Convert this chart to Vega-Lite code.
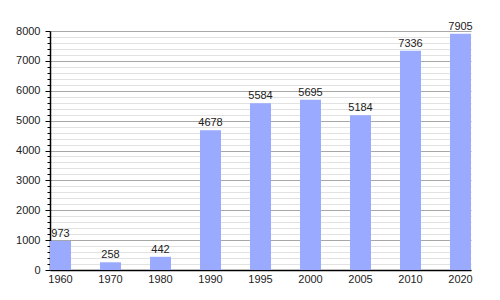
{
  "$schema": "https://vega.github.io/schema/vega-lite/v6.json",
  "width": 421,
  "height": 239,
  "autosize": {"type": "none"},
  "padding": {"left": 50, "top": 31, "right": 29, "bottom": 30},
  "background": "white",
  "config": {
    "view": {"stroke": null},
    "font": "Liberation Sans",
    "axis": {"labelFont": "Liberation Sans", "labelFontSize": 11, "labelColor": "#222"}
  },
  "data": {
    "values": [
      {"year": "1960", "pop": 973},
      {"year": "1970", "pop": 258},
      {"year": "1980", "pop": 442},
      {"year": "1990", "pop": 4678},
      {"year": "1995", "pop": 5584},
      {"year": "2000", "pop": 5695},
      {"year": "2005", "pop": 5184},
      {"year": "2010", "pop": 7336},
      {"year": "2020", "pop": 7905}
    ]
  },
  "encoding": {
    "x": {
      "field": "year", "type": "ordinal", "title": null,
      "scale": {"paddingInner": 0.58, "paddingOuter": 0},
      "axis": {"labelAngle": 0, "ticks": false, "domainColor": "#000", "domainWidth": 1.5, "labelPadding": 3, "grid": false}
    }
  },
  "layer": [
    {
      "mark": {"type": "bar", "color": "#99aaff"},
      "encoding": {
        "y": {
          "field": "pop", "type": "quantitative", "title": null,
          "scale": {"domain": [0, 8000], "nice": false},
          "axis": {
            "orient": "left",
            "values": [0, 1000, 2000, 3000, 4000, 5000, 6000, 7000, 8000],
            "format": "d",
            "grid": true, "gridColor": "#a8a8a8", "gridWidth": 1,
            "tickColor": "#000", "tickSize": 5, "domainColor": "#000", "domainWidth": 1.5,
            "labelPadding": 5
          }
        }
      }
    },
    {
      "mark": {"type": "text", "dy": -7, "fontSize": 11, "color": "#222", "font": "Liberation Sans"},
      "encoding": {
        "y": {
          "field": "pop", "type": "quantitative",
          "axis": {
            "orient": "left",
            "values": [200, 400, 600, 800, 1200, 1400, 1600, 1800, 2200, 2400, 2600, 2800, 3200, 3400, 3600, 3800, 4200, 4400, 4600, 4800, 5200, 5400, 5600, 5800, 6200, 6400, 6600, 6800, 7200, 7400, 7600, 7800],
            "grid": true, "gridColor": "#e2e2e2", "gridWidth": 1,
            "labels": false, "domain": false, "tickColor": "#000", "tickSize": 3, "title": null
          }
        },
        "text": {"field": "pop", "type": "quantitative", "format": "d"}
      }
    }
  ],
  "resolve": {"axis": {"y": "independent"}}
}
